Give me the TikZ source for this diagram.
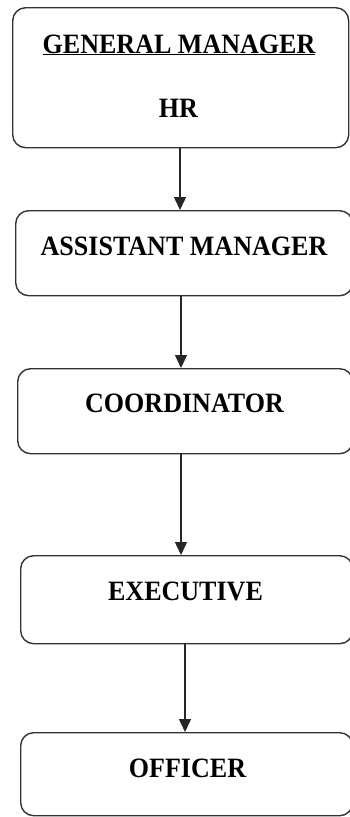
\documentclass[tikz,border=0pt]{standalone}
\usepackage{fontspec}
\setmainfont{Liberation Serif}
\usepackage{graphicx}
\usetikzlibrary{arrows.meta}
\tikzset{
  box/.style={draw=black!80, line width=1.4pt, rounded corners=13pt, inner sep=0pt, anchor=north west},
  lbl/.style={inner sep=0pt, anchor=base, font=\fontsize{28}{30}\selectfont\bfseries},
  arr/.style={line width=1.4pt, draw=black!85, -{Triangle[width=12pt,length=13pt]}}
}
\newcommand{\sq}[1]{\scalebox{0.93}[1]{#1}}
\begin{document}
\begin{tikzpicture}[x=1pt,y=-1pt]
\useasboundingbox (0,0) rectangle (350,817);
\node[box, minimum width=336pt, minimum height=140pt] (b1) at (12,7) {};
\node[box, minimum width=337pt, minimum height=85pt] (b2) at (15,210) {};
\node[box, minimum width=335pt, minimum height=85pt] (b3) at (17,368) {};
\node[box, minimum width=332pt, minimum height=88pt] (b4) at (20,555) {};
\node[box, minimum width=332pt, minimum height=83pt] (b5) at (20,732) {};
\node[lbl] (t1) at (179,53) {\sq{\underline{GENERAL MANAGER}}};
\node[lbl] (t1b) at (178.5,117) {\sq{HR}};
\node[lbl] (t2) at (184,255) {\sq{ASSISTANT MANAGER}};
\node[lbl] (t3) at (184.5,412) {\sq{COORDINATOR}};
\node[lbl] (t4) at (185.5,600) {\sq{EXECUTIVE}};
\node[lbl] (t5) at (187.5,777) {\sq{OFFICER}};
\draw[arr] (b1.south -| 180,0) -- (b2.north -| 180,0);
\draw[arr] (b2.south -| 181,0) -- (b3.north -| 181,0);
\draw[arr] (b3.south -| 181,0) -- (b4.north -| 181,0);
\draw[arr] (b4.south -| 185,0) -- (b5.north -| 185,0);
\end{tikzpicture}
\end{document}
